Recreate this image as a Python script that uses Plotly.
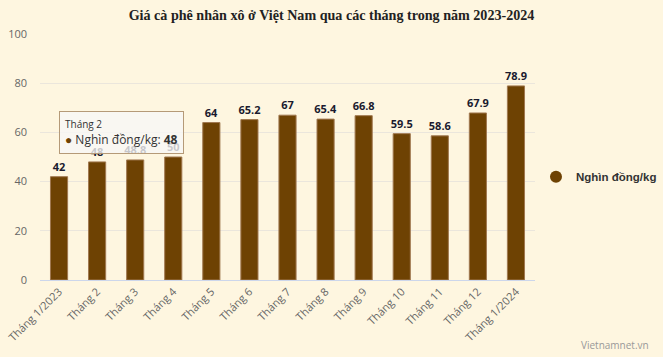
import plotly.graph_objects as go

months = ["Tháng 1/2023", "Tháng 2", "Tháng 3", "Tháng 4", "Tháng 5", "Tháng 6", "Tháng 7",
          "Tháng 8", "Tháng 9", "Tháng 10", "Tháng 11", "Tháng 12", "Tháng 1/2024"]
prices = [42, 48, 48.8, 50, 64, 65.2, 67, 65.4, 66.8, 59.5, 58.6, 67.9, 78.9]
labels = ["42", "48", "48.8", "50", "64", "65.2", "67", "65.4", "66.8", "59.5", "58.6", "67.9", "78.9"]
series_name = "Nghìn đồng/kg"
y_ticks = [0, 20, 40, 60, 80, 100]

BG = "#fef6e0"
BAR = "#6e4203"

fig = go.Figure()
fig.add_trace(go.Bar(
    x=months, y=prices, text=labels, textposition="outside", cliponaxis=False,
    textfont=dict(family="Open Sans, Arial", size=11, color="#1a1a2e", weight="bold"),
    marker=dict(color=BAR, line=dict(color="#a07850", width=1)),
    showlegend=False, name=series_name, hoverinfo="skip",
))
fig.add_trace(go.Scatter(
    x=[None], y=[None], mode="markers", name=series_name,
    marker=dict(symbol="circle", size=11, color=BAR), showlegend=True,
))

# tooltip imitation
fig.add_annotation(
    x=months[1], y=prices[1], xref="x", yref="y",
    text="<span style='font-size:10px'>Tháng 2</span><br><span style='color:%s'>●</span> Nghìn đồng/kg: <b>48</b>" % BAR,
    showarrow=False, xanchor="center", yanchor="bottom", xshift=24, yshift=8,
    align="left", bgcolor="rgba(247,247,247,0.78)", bordercolor="#b59a78", borderwidth=1, borderpad=5,
    font=dict(family="Open Sans, Arial", size=12, color="#333333"),
)

fig.add_annotation(
    text="Vietnamnet.vn", xref="paper", yref="paper", x=1.234, y=-0.30,
    xanchor="right", yanchor="bottom", showarrow=False,
    font=dict(family="Open Sans, Arial", size=10, color="#999999"),
)

fig.update_layout(
    width=663, height=357,
    paper_bgcolor=BG, plot_bgcolor=BG,
    margin=dict(l=40, r=128, t=34, b=77, autoexpand=False),
    title=dict(text="<b>Giá cà phê nhân xô ở Việt Nam qua các tháng trong năm 2023-2024</b>",
               x=0.5, xanchor="center", y=0.958, yanchor="middle",
               font=dict(family="Liberation Serif, Times New Roman, serif", size=14.1, color="#222222")),
    bargap=0.55,
    uniformtext=dict(minsize=11, mode="show"),
    legend=dict(x=1.002, y=0.42, xanchor="left", yanchor="middle",
                font=dict(family="Liberation Sans, Arial", size=11.5, color="#333333", weight="bold"),
                bgcolor="rgba(0,0,0,0)", itemsizing="constant", itemwidth=30),
    hovermode=False,
)
fig.update_xaxes(
    type="category", tickangle=-45, showline=True, linecolor="#ccd6eb", linewidth=1,
    showgrid=False, ticks="", automargin=False,
    tickfont=dict(family="Open Sans, Arial", size=11, color="#666666"),
)
fig.update_yaxes(
    range=[0, 100], tickvals=y_ticks, showgrid=True, gridcolor="#ebe6dc", gridwidth=1,
    zeroline=False, showline=False, ticks="", ticklabelstandoff=12, automargin=False,
    tickfont=dict(family="Open Sans, Arial", size=11, color="#666666"),
)

fig.write_html("out.html", config={"displayModeBar": False},
               post_script="document.body.style.margin='0';document.body.style.overflow='hidden';")
